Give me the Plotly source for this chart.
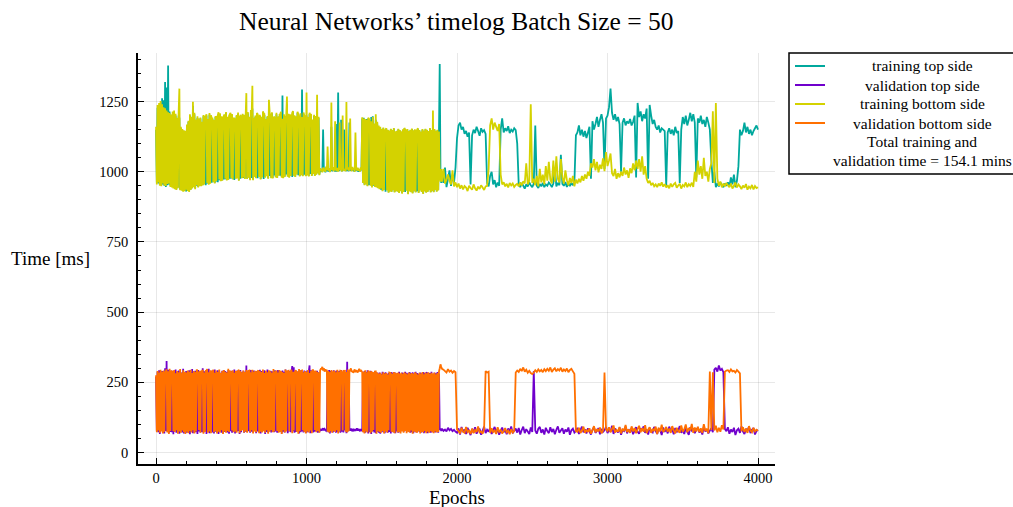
import plotly.graph_objects as go

# ---------------------------------------------------------------- data
# timing log: every 5 epochs up to 1895, then every 10 epochs up to 4000
epochs_early = list(range(0, 1900, 5))
epochs_late = list(range(1900, 4001, 10))

train_top_early = [
    1150, 962, 1228, 958, 1236, 953, 1240, 952, 1262, 955, 1255, 950, 1320, 946, 1300, 952, 1378, 955, 1215, 950,
    1198, 950, 1205, 945, 1210, 942, 1200, 938, 1188, 944, 1200, 1190, 937, 1155, 935, 1148, 932, 1142, 934, 1140,
    930, 1165, 934, 1178, 931, 1200, 937, 1190, 942, 1235, 947, 1205, 941, 1180, 950, 1192, 946, 1186, 951, 1190,
    951, 1172, 953, 1198, 957, 1190, 952, 1200, 958, 1184, 956, 1204, 960, 1196, 961, 1188, 964, 1180, 960, 1195,
    965, 1192, 963, 1206, 970, 1205, 968, 1194, 970, 1185, 972, 1200, 973, 1210, 971, 1192, 973, 1195, 975, 1206,
    976, 1202, 974, 1188, 971, 1183, 977, 1198, 978, 1207, 970, 1191, 975, 1194, 979, 1203, 978, 1199, 976, 1190,
    1200, 976, 1208, 980, 1192, 972, 1215, 978, 1225, 972, 1188, 983, 1196, 979, 1205, 977, 1191, 983, 1199, 974,
    1192, 982, 1211, 974, 1202, 981, 1184, 986, 1195, 977, 1230, 985, 1197, 979, 1208, 978, 1190, 987, 1186, 982,
    1205, 980, 1193, 988, 1199, 986, 1210, 981, 1272, 979, 1200, 983, 1188, 990, 1240, 984, 1203, 981, 1201, 987,
    1189, 981, 1212, 988, 1197, 983, 1194, 991, 1210, 988, 1186, 985, 1204, 990, 1293, 986, 1207, 989, 1196, 986,
    1200, 989, 1191, 985, 1206, 992, 1202, 987, 1182, 994, 1199, 987, 1195, 991, 1205, 996, 1192, 990, 1008, 1002,
    1006, 1000, 1150, 1004, 1008, 998, 1012, 1003, 1009, 1001, 1011, 1000, 1007, 1160, 1002, 1012, 1004, 1009, 1001, 1170,
    1001, 1008, 1282, 1004, 1006, 1010, 1185, 1002, 1009, 1005, 1150, 1006, 1011, 1003, 1008, 1012, 1002, 1175, 1009, 1004,
    1014, 1005, 1010, 1002, 1012, 1003, 1008, 1006, 1011, 1000, 1007, 1003, 1009, 1005, 1190, 962, 1192, 955, 1186, 957,
    1188, 950, 1190, 953, 1184, 952, 1195, 948, 1198, 950, 1170, 948, 1185, 946, 1172, 943, 1158, 940, 1155, 936,
    1150, 933, 1155, 936, 1146, 929, 1153, 935, 1148, 927, 1145, 932, 1151, 930, 1147, 936, 1154, 928, 1142, 933,
    1144, 931, 1151, 926, 1147, 933, 1142, 924, 1149, 930, 1154, 928, 1145, 934, 1150, 922, 1143, 932, 1148, 929,
    1152, 925, 1146, 933, 1149, 928, 1144, 931, 1153, 926, 1147, 935, 1141, 930, 1150, 923, 1145, 932, 1151, 927,
    1148, 930, 1143, 936, 1154, 928, 1147, 933, 1150, 929, 1150, 937, 1144, 931, 1148, 935, 1141, 1384, 1000, 960,
]
train_top_late = [
    1000, 960, 1015, 945, 975, 1005, 950, 990, 962, 1015,
    1120, 1165, 1175, 1150, 1160, 1135, 1145, 1125, 1140, 955, 1130, 1150, 1138, 1160, 1145, 1128, 1155, 1142, 1148, 1135,
    960, 948, 985, 1000, 955, 970, 945, 962, 950, 1150, 1190, 1140, 1155, 1145, 1162, 1138, 1150, 1143, 1155, 1148,
    1100, 955, 945, 960, 950, 940, 955, 948, 962, 952, 945, 958, 1165, 950, 942, 956, 948, 960, 945, 955,
    950, 962, 955, 945, 958, 1015, 948, 960, 952, 1060, 957, 950, 963, 946, 958, 949, 960, 952, 965, 1130,
    1140, 1165, 1130, 1150, 1125, 1145, 1120, 1140, 1160, 975, 1180, 1150, 1170, 1195, 1160, 1185, 1205, 1175, 1010, 1190,
    1200, 1230, 1296, 1210, 1185, 1205, 1180, 1195, 1170, 1000, 1175, 1190, 1165, 1180, 1172, 1188, 1165, 1178, 1200, 980,
    1245, 1195, 1215, 1180, 1205, 1190, 1225, 975, 1238, 1200, 1170, 1185, 1160, 1150, 1165, 1140, 1155, 1150, 1145, 950,
    1140, 1155, 1135, 1150, 1130, 1160, 1138, 1145, 960, 1150, 1195, 1170, 1200, 1165, 1185, 1210, 1180, 1205, 1175, 980,
    1190, 1175, 1200, 1170, 1185, 1160, 1195, 1175, 1150, 1040, 960, 1000, 945, 958, 948, 962, 952, 945, 958, 950,
    962, 948, 980, 955, 990, 945, 968, 1020, 1150, 1130, 1145, 1175, 1140, 1160, 1135, 1150, 1130, 1145, 1155, 1165,
    1150,
]

val_top_early = [
    270, 76, 288, 72, 293, 66, 282, 79, 290, 70, 287, 68, 300, 77, 326, 74, 295, 69, 286, 73,
    288, 72, 291, 65, 283, 78, 296, 70, 286, 74, 292, 67, 289, 76, 285, 71, 298, 68, 284, 75,
    290, 70, 286, 77, 293, 65, 288, 74, 297, 69, 284, 78, 291, 72, 287, 66, 294, 75, 289, 71,
    284, 73, 300, 70, 289, 76, 287, 66, 292, 74, 298, 69, 285, 77, 291, 71, 288, 68, 296, 74,
    286, 72, 293, 66, 288, 77, 284, 70, 291, 68, 294, 73, 290, 75, 287, 71, 294, 67, 289, 76,
    291, 70, 288, 75, 296, 68, 285, 73, 292, 77, 289, 66, 294, 72, 286, 79, 291, 70, 288, 74,
    310, 73, 289, 76, 291, 70, 294, 74, 287, 71, 292, 78, 285, 69, 290, 75, 288, 72, 295, 68,
    290, 74, 286, 77, 293, 66, 288, 73, 296, 70, 285, 76, 291, 71, 289, 78, 284, 72, 293, 75,
    287, 70, 294, 73, 289, 76, 285, 68, 292, 74, 288, 71, 296, 77, 290, 69, 286, 75, 291, 72,
    284, 308, 76, 304, 70, 291, 73, 289, 77, 286, 68, 294, 72, 290, 75, 287, 71, 292, 74, 288,
    70, 292, 74, 288, 310, 69, 293, 76, 285, 71, 290, 74, 288, 77, 291, 70, 286, 73, 80, 84,
    78, 82, 86, 79, 84, 80, 77, 83, 288, 72, 294, 68, 290, 75, 287, 71, 293, 76, 289, 70,
    292, 73, 289, 76, 291, 70, 294, 74, 287, 71, 292, 78, 285, 69, 323, 75, 288, 82, 78, 85,
    80, 76, 84, 79, 83, 77, 81, 86, 78, 84, 80, 76, 83, 79, 82, 286, 72, 290, 70, 287,
    75, 293, 68, 285, 73, 291, 66, 288, 76, 282, 71, 290, 69, 286, 74, 281, 70, 285, 67, 280,
    75, 288, 72, 283, 69, 286, 76, 279, 70, 284, 73, 281, 68, 287, 74, 282, 71, 286, 69, 280,
    75, 283, 70, 288, 72, 279, 80, 285, 77, 282, 75, 288, 79, 284, 76, 281, 74, 287, 70, 283,
    72, 286, 69, 281, 75, 288, 71, 283, 77, 280, 73, 285, 70, 282, 76, 287, 69, 284, 74, 281,
    286, 69, 280, 75, 283, 70, 288, 72, 279, 74, 284, 71, 282, 76, 287, 70, 281, 80, 85, 77,
]
val_top_late = [
    85, 77, 82, 75, 88, 79, 84, 76, 81, 74,
    70, 86, 64, 91, 73, 82, 66, 88, 75, 62, 84, 71, 90, 67, 79, 85, 63, 77, 92, 69,
    81, 74, 88, 66, 79, 91, 70, 84, 63, 77, 89, 72, 80, 65, 86, 74, 93, 68, 78, 85,
    71, 87, 64, 80, 92, 69, 83, 75, 66, 89, 73, 290, 78, 67, 85, 91, 70, 82, 64, 88,
    76, 69, 90, 73, 84, 65, 81, 93, 70, 78, 86, 67, 82, 74, 89, 63, 79, 85, 71, 77,
    88, 66, 80, 92, 72, 83, 68, 86, 75, 64, 81, 90, 70, 77, 87, 65, 84, 73, 79, 91,
    69, 82, 74, 95, 66, 85, 78, 71, 89, 63, 80, 76, 92, 68, 83, 72, 87, 65, 79, 90,
    74, 67, 86, 79, 93, 70, 82, 64, 88, 75, 71, 91, 77, 66, 84, 80, 62, 89, 73, 85,
    68, 92, 76, 83, 65, 87, 72, 79, 94, 70, 81, 66, 88, 74, 63, 90, 78, 85, 69, 82,
    87, 71, 80, 64, 92, 75, 83, 68, 78, 86, 72, 295, 302, 288, 310, 292, 298, 286, 84, 76,
    90, 67, 82, 73, 88, 62, 79, 85, 70, 93, 75, 66, 84, 78, 91, 69, 81, 87, 64, 77,
    80,
]

train_bottom_early = [
    1160, 955, 1238, 962, 1245, 950, 1252, 948, 1240, 958, 1230, 951, 1226, 949, 1218, 956, 1212, 958, 1209, 946,
    1204, 944, 1215, 940, 1218, 938, 1207, 935, 1192, 941, 1210, 1296, 934, 1160, 932, 1152, 929, 1148, 931, 1146,
    936, 1168, 931, 1182, 928, 1205, 935, 1196, 940, 1249, 945, 1210, 938, 1186, 952, 1198, 944, 1190, 948, 1193,
    948, 1178, 951, 1202, 955, 1196, 1195, 1205, 960, 1188, 954, 1209, 957, 1201, 1190, 1192, 963, 1184, 958, 1199,
    967, 1195, 1200, 1212, 972, 1208, 966, 1198, 968, 1190, 1198, 1204, 975, 1213, 969, 1196, 971, 1199, 1205, 1210,
    978, 1206, 972, 1192, 1190, 1187, 975, 1202, 976, 1211, 968, 1195, 1200, 1198, 977, 1207, 980, 1203, 974, 1194,
    1280, 974, 1213, 979, 1196, 970, 1220, 1200, 1306, 970, 1192, 982, 1200, 977, 1209, 1205, 1195, 981, 1203, 972,
    1196, 980, 1215, 1208, 1206, 979, 1188, 984, 1199, 975, 1256, 1210, 1201, 977, 1212, 976, 1194, 1195, 1190, 980,
    1210, 978, 1197, 986, 1203, 1205, 1214, 979, 1189, 977, 1205, 981, 1192, 1200, 1268, 982, 1207, 979, 1205, 985,
    1193, 1210, 1216, 986, 1201, 981, 1198, 990, 1214, 1205, 1190, 983, 1208, 988, 1195, 984, 1211, 1198, 1200, 984,
    1282, 987, 1195, 983, 1210, 1200, 1206, 985, 1186, 992, 1203, 985, 1199, 989, 1274, 994, 1196, 988, 1012, 1005,
    1010, 998, 1015, 1003, 1012, 1000, 1018, 1006, 1090, 1004, 1013, 999, 1010, 1247, 1005, 1016, 1002, 1011, 1180, 1007,
    1003, 1014, 1001, 1010, 1175, 1006, 1012, 1001, 1200, 1013, 1004, 1009, 1002, 1248, 1008, 1015, 1004, 1010, 1190, 1011,
    1002, 1017, 1007, 1012, 1000, 1140, 1012, 1005, 1014, 1003, 1010, 1001, 1015, 1006, 1194, 960, 1190, 952, 1188, 955,
    1185, 948, 1192, 1188, 1186, 950, 1180, 944, 1195, 952, 1172, 946, 1205, 944, 1178, 941, 1165, 938, 1160, 940,
    1152, 931, 1158, 935, 1148, 1150, 1155, 933, 1150, 925, 1147, 930, 1153, 928, 1149, 934, 1156, 926, 1144, 931,
    1146, 929, 1153, 924, 1149, 931, 1144, 922, 1151, 928, 1156, 1150, 1147, 932, 1152, 920, 1145, 930, 1150, 927,
    1154, 923, 1148, 931, 1151, 926, 1146, 1149, 1155, 924, 1149, 933, 1143, 928, 1152, 921, 1147, 930, 1153, 925,
    1150, 928, 1145, 934, 1156, 926, 1149, 931, 1218, 927, 1152, 935, 1146, 929, 1150, 933, 1143, 982, 965, 1010,
]
train_bottom_late = [
    965, 1010, 958, 972, 990, 968, 955, 1005, 948, 962,
    945, 958, 940, 952, 937, 949, 944, 931, 950, 942, 936, 955, 941, 933, 947, 939, 952, 944, 935, 948,
    950, 1010, 1165, 1190, 1150, 1175, 1160, 1145, 1170, 990, 955, 962, 948, 957, 944, 960, 951, 958, 946, 953,
    957, 948, 962, 951, 966, 958, 1030, 955, 968, 1240, 960, 975, 952, 985, 948, 1010, 962, 990, 955, 1020,
    968, 1035, 972, 958, 1040, 965, 1055, 975, 962, 1045, 980, 958, 1005, 970, 952, 978, 960, 985, 948, 972,
    958, 975, 962, 985, 968, 990, 975, 1000, 985, 1030, 1015, 1045, 1005, 1035, 998, 1025, 1010, 1048, 1002, 1070,
    1020, 1040, 1065, 995, 985, 1010, 975, 995, 980, 1000, 985, 1015, 990, 1005, 978, 1012, 995, 1030, 1005, 1040,
    1010, 1045, 1000, 1055, 990, 1020, 975, 960, 968, 952, 960, 948, 955, 945, 958, 950, 962, 947, 956, 944,
    952, 941, 958, 946, 955, 960, 943, 951, 957, 940, 953, 948, 962, 945, 956, 950, 961, 946, 1000, 965,
    1040, 990, 1020, 975, 1050, 985, 1000, 965, 1010, 1030, 1215, 960, 1245, 975, 950, 965, 945, 958, 948, 960,
    952, 945, 958, 940, 950, 962, 944, 955, 948, 938, 951, 943, 956, 936, 947, 941, 953, 937, 949, 942,
    945,
]

val_bottom_early = [
    275, 72, 290, 78, 285, 70, 295, 75, 288, 68, 292, 74, 283, 290, 296, 71, 289, 66, 298, 77,
    291, 289, 287, 76, 294, 73, 282, 79, 290, 67, 286, 75, 297, 70, 284, 78, 293, 72, 288, 66,
    285, 74, 292, 69, 288, 77, 295, 71, 283, 79, 290, 68, 287, 75, 296, 288, 284, 80, 291, 70,
    289, 290, 294, 67, 285, 73, 291, 292, 297, 70, 286, 75, 293, 69, 288, 287, 295, 72, 284, 77,
    292, 68, 287, 74, 296, 71, 283, 79, 290, 66, 294, 75, 288, 70, 285, 77, 298, 73, 289, 288,
    286, 78, 293, 72, 284, 75, 291, 70, 288, 290, 295, 69, 290, 77, 286, 80, 292, 71, 287, 76,
    294, 70, 289, 291, 292, 73, 286, 79, 295, 68, 288, 75, 291, 72, 285, 289, 293, 69, 290, 74,
    287, 71, 296, 76, 283, 70, 291, 79, 286, 67, 293, 74, 289, 80, 284, 72, 297, 75, 288, 286,
    292, 77, 285, 70, 294, 73, 290, 66, 287, 79, 283, 71, 296, 75, 289, 290, 291, 76, 286, 288,
    295, 69, 288, 78, 284, 290, 293, 74, 289, 67, 297, 76, 285, 291, 292, 79, 286, 73, 290, 68,
    287, 75, 294, 71, 283, 78, 291, 69, 296, 292, 286, 80, 292, 72, 288, 77, 285, 70, 292, 298,
    298, 305, 292, 300, 288, 296, 290, 295, 74, 290, 71, 287, 76, 294, 70, 289, 77, 292, 73, 286,
    79, 295, 68, 288, 75, 291, 290, 285, 78, 293, 289, 290, 74, 287, 71, 296, 76, 288, 295, 299,
    287, 291, 284, 290, 296, 286, 293, 289, 285, 292, 298, 288, 294, 290, 286, 72, 288, 68, 293, 75,
    286, 71, 291, 287, 284, 69, 290, 74, 287, 80, 282, 289, 289, 67, 285, 76, 280, 73, 284, 70,
    279, 77, 286, 68, 281, 75, 283, 71, 278, 79, 285, 284, 282, 74, 280, 72, 287, 69, 283, 280,
    279, 71, 285, 73, 281, 68, 284, 75, 280, 70, 286, 77, 282, 69, 279, 74, 285, 71, 281, 78,
    283, 67, 280, 75, 286, 72, 282, 70, 278, 76, 284, 68, 281, 73, 287, 71, 279, 77, 285, 69,
    282, 74, 286, 70, 280, 76, 284, 72, 281, 69, 285, 75, 279, 71, 283, 73, 288, 300, 314, 305,
]
val_bottom_late = [
    298, 295, 290, 285, 297, 288, 292, 284, 290, 286,
    82, 76, 68, 88, 74, 70, 91, 73, 78, 66, 85, 69, 80, 73, 93, 72, 75, 67, 84, 290,
    285, 288, 70, 86, 73, 79, 66, 90, 74, 80, 68, 76, 87, 72, 78, 65, 83, 71, 77, 285,
    292, 287, 298, 290, 303, 288, 295, 284, 291, 283, 279, 285, 293, 287, 296, 289, 294, 286, 297, 290,
    298, 291, 303, 287, 295, 300, 289, 297, 292, 302, 288, 296, 290, 299, 286, 294, 298, 289, 280, 76,
    74, 88, 69, 77, 92, 70, 81, 73, 86, 67, 79, 94, 72, 83, 75, 89, 68, 78, 285, 82,
    77, 90, 72, 84, 96, 71, 80, 74, 91, 68, 85, 76, 98, 73, 82, 70, 93, 75, 87, 69,
    83, 95, 72, 86, 74, 97, 69, 81, 90, 70, 84, 77, 92, 66, 88, 75, 99, 73, 80, 91,
    74, 85, 70, 94, 79, 68, 88, 76, 71, 96, 74, 83, 100, 72, 87, 78, 102, 70, 89, 75,
    92, 73, 86, 70, 101, 77, 84, 69, 288, 80, 286, 78, 95, 72, 88, 74, 97, 82, 288, 292,
    293, 287, 296, 289, 291, 285, 294, 288, 282, 76, 90, 73, 85, 70, 94, 78, 72, 88, 75, 81,
    77,
]

series_names = ["training top side", "validation top side",
                "training bottom side", "validation bottom side"]
series_early = [train_top_early, val_top_early, train_bottom_early, val_bottom_early]
series_late = [train_top_late, val_top_late, train_bottom_late, val_bottom_late]
series_colors = ["rgb(0,168,157)", "rgb(112,0,204)", "rgb(212,210,0)", "rgb(255,112,0)"]
note_lines = ["Total training and", "validation time = 154.1 mins"]

title_text = "Neural Networks\u2019 timelog Batch Size = 50"
x_label = "Epochs"
y_label = "Time [ms]"
x_ticks = [0, 1000, 2000, 3000, 4000]
y_ticks = [0, 250, 500, 750, 1000, 1250]

epochs = epochs_early + epochs_late
for early, late in zip(series_early, series_late):
    assert len(early) == len(epochs_early) and len(late) == len(epochs_late)

# ---------------------------------------------------------------- layout
W, H = 1013, 507
PL, PR, PT, PB = 138, 775, 53, 464          # plot area in pixels
FONT = "Liberation Serif"


def fx(px):
    return (px - PL) / (PR - PL)


def fy(py):
    return (PB - py) / (PB - PT)


fig = go.Figure()
for name, early, late, col in zip(series_names, series_early, series_late, series_colors):
    fig.add_trace(go.Scatter(
        x=epochs, y=early + late, mode="lines", name=name, showlegend=False,
        line=dict(color=col, width=1.8, simplify=False),
    ))

axis_common = dict(
    showline=True, linecolor="black", linewidth=1.5, mirror=False,
    ticks="inside", ticklen=6, tickwidth=1, tickcolor="black",
    showgrid=True, gridcolor="rgba(0,0,0,0.09)", gridwidth=1,
    zeroline=False,
    tickfont=dict(family=FONT, size=14.5, color="black"),
)

fig.update_xaxes(
    range=[-120, 4113], tickvals=x_ticks,
    minor=dict(dtick=200, tick0=0, ticks="inside", ticklen=3.5,
               tickwidth=1, tickcolor="black", showgrid=False),
    **axis_common,
)
fig.update_yaxes(
    range=[-41, 1423], tickvals=y_ticks, ticklabelstandoff=5,
    minor=dict(dtick=50, tick0=0, ticks="inside", ticklen=3.5,
               tickwidth=1, tickcolor="black", showgrid=False),
    **axis_common,
)

annotations = [
    dict(text=title_text, x=fx(457), y=fy(22), xref="paper", yref="paper",
         xanchor="center", yanchor="middle", showarrow=False,
         font=dict(family=FONT, size=25.5, color="black")),
    dict(text=x_label, x=fx(457), y=fy(497), xref="paper", yref="paper",
         xanchor="center", yanchor="middle", showarrow=False,
         font=dict(family=FONT, size=19, color="black")),
    dict(text=y_label, x=fx(50), y=fy(258), xref="paper", yref="paper",
         xanchor="center", yanchor="middle", showarrow=False,
         font=dict(family=FONT, size=19, color="black")),
]

# legend box drawn by hand so the entries can be centred
shapes = [dict(type="rect", xref="paper", yref="paper",
               x0=fx(789), x1=fx(1022), y0=fy(174), y1=fy(53),
               line=dict(color="black", width=1.5), fillcolor="white", layer="above")]
row_y = [66, 85, 104, 123, 141, 160]
for i, (name, col) in enumerate(zip(series_names, series_colors)):
    shapes.append(dict(type="line", xref="paper", yref="paper",
                       x0=fx(795), x1=fx(825), y0=fy(row_y[i]), y1=fy(row_y[i]),
                       line=dict(color=col, width=2), layer="above"))
    annotations.append(dict(text=name, x=fx(922), y=fy(row_y[i]), xref="paper", yref="paper",
                            xanchor="center", yanchor="middle", showarrow=False,
                            font=dict(family=FONT, size=15.5, color="black")))
for j, line in enumerate(note_lines):
    annotations.append(dict(text=line, x=fx(922), y=fy(row_y[4 + j]), xref="paper", yref="paper",
                            xanchor="center", yanchor="middle", showarrow=False,
                            font=dict(family=FONT, size=15.5, color="black")))

fig.update_layout(
    width=W, height=H,
    margin=dict(l=PL, r=W - PR, t=PT, b=H - PB, pad=0),
    paper_bgcolor="white", plot_bgcolor="white",
    showlegend=False,
    annotations=annotations, shapes=shapes,
)

fig.write_html("out.html")
